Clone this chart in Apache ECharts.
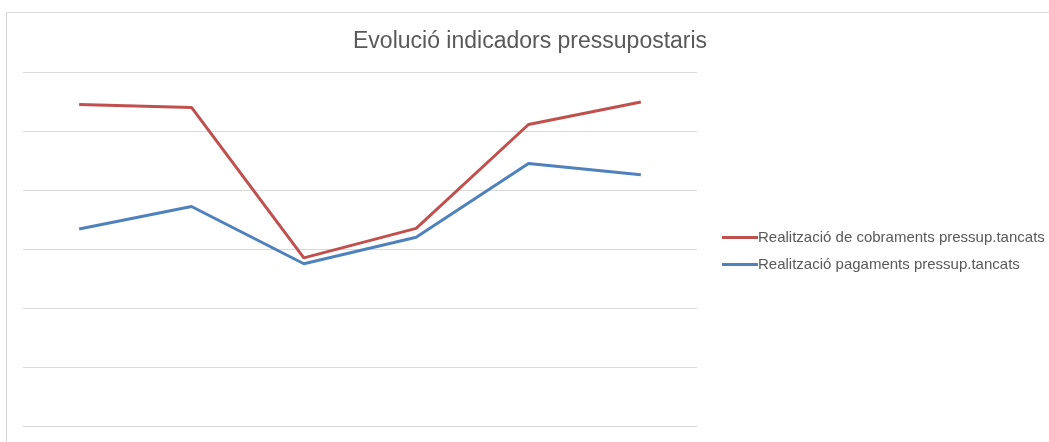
<!DOCTYPE html>
<html>
<head>
<meta charset="utf-8">
<script src="https://cdn.jsdelivr.net/npm/echarts@6/dist/echarts.min.js"></script>
<style>html,body{margin:0;padding:0;background:#fff;}#c{width:1049px;height:442px;}</style>
</head>
<body>
<div id="c"></div>
<script>
var categories = ['1', '2', '3', '4', '5', '6'];
var cobraments = [5.45, 5.40, 2.85, 3.35, 5.11, 5.49];
var pagaments = [3.34, 3.72, 2.75, 3.20, 4.45, 4.26];
var seriesNames = ['Realització de cobraments pressup.tancats', 'Realització pagaments pressup.tancats'];
var chart = echarts.init(document.getElementById('c'));
chart.setOption({
  animation: false,
  backgroundColor: '#fff',
  graphic: [{
    type: 'rect', silent: true, z: -1,
    shape: {x: 6.5, y: 12.5, width: 1100, height: 500},
    style: {fill: 'none', stroke: '#d9d9d9', lineWidth: 1}
  }],
  title: {
    text: 'Evolució indicadors pressupostaris',
    left: 353, top: 30, padding: 0,
    textStyle: {fontFamily: 'Liberation Sans', fontSize: 23, fontWeight: 'normal', color: '#595959'}
  },
  legend: {
    orient: 'vertical', left: 722, top: 230, padding: 0,
    icon: 'rect', itemWidth: 36, itemHeight: 3, itemGap: 12,
    textStyle: {fontFamily: 'Liberation Sans', fontSize: 15, color: '#595959', padding: [0, 0, 0, -5]},
    data: seriesNames
  },
  grid: {left: 23, right: 352, top: 72, bottom: 16},
  xAxis: {
    type: 'category', data: categories, boundaryGap: true,
    axisLine: {show: false}, axisTick: {show: false}, axisLabel: {show: false}
  },
  yAxis: {
    type: 'value', min: 0, max: 6, interval: 1,
    axisLine: {show: false}, axisTick: {show: false}, axisLabel: {show: false},
    splitLine: {lineStyle: {color: '#d9d9d9', width: 1}}
  },
  series: [
    {name: seriesNames[0], type: 'line', data: cobraments, symbol: 'none',
     itemStyle: {color: '#C0504D'}, lineStyle: {color: '#C0504D', width: 3}},
    {name: seriesNames[1], type: 'line', data: pagaments, symbol: 'none',
     itemStyle: {color: '#4F81BD'}, lineStyle: {color: '#4F81BD', width: 3}}
  ]
});
</script>
</body>
</html>
